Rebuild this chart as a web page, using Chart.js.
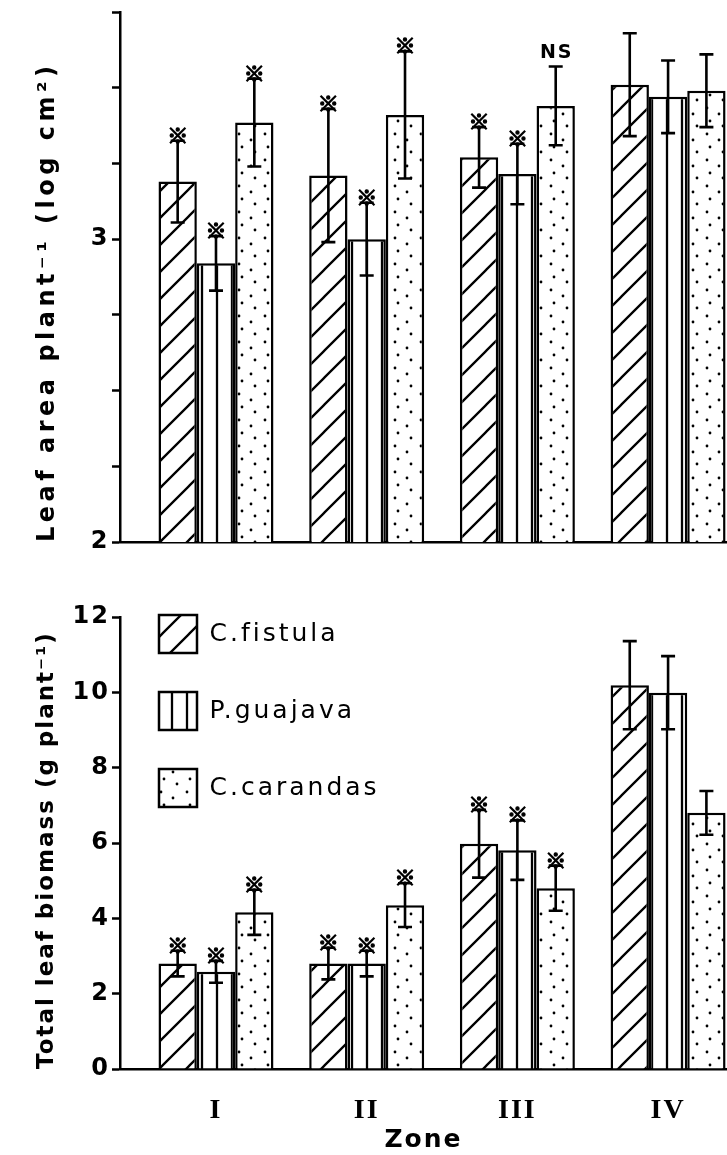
<!DOCTYPE html>
<html><head><meta charset="utf-8">
<script src="https://cdn.jsdelivr.net/npm/chart.js@4"></script>
<style>
html,body{margin:0;padding:0;background:#fff;}
#wrap{position:relative;width:727px;height:1155px;background:#fff;}
#c1{position:absolute;left:0;top:0;}
#c2{position:absolute;left:0;top:580px;}
</style></head><body>
<div id="wrap"><canvas id="c1" width="727" height="560"></canvas><canvas id="c2" width="727" height="575"></canvas></div>
<script>
// ---------- data ----------
const zones = ['I', 'II', 'III', 'IV'];
const speciesNames = ['C.fistula', 'P.guajava', 'C.carandas'];

// Leaf area plant-1 (log cm2)
const areaFistula  = [3.19, 3.21, 3.27, 3.51];
const areaGuajava  = [2.92, 3.00, 3.215, 3.47];
const areaCarandas = [3.385, 3.41, 3.44, 3.49];
const areaFistulaErr  = [0.135, 0.22, 0.10, 0.17];
const areaGuajavaErr  = [0.09, 0.12, 0.10, 0.12];
const areaCarandasErr = [0.145, 0.21, 0.13, 0.12];
const areaFistulaMark  = ['※', '※', '※', ''];
const areaGuajavaMark  = ['※', '※', '※', ''];
const areaCarandasMark = ['※', '※', 'NS', ''];

// Total leaf biomass (g plant-1)
const massFistula  = [2.80, 2.80, 5.98, 10.19];
const massGuajava  = [2.58, 2.80, 5.81, 9.99];
const massCarandas = [4.16, 4.35, 4.80, 6.80];
const massFistulaErr  = [0.34, 0.42, 0.90, 1.17];
const massGuajavaErr  = [0.29, 0.34, 0.79, 0.97];
const massCarandasErr = [0.60, 0.58, 0.60, 0.58];
const massFistulaMark  = ['※', '※', '※', ''];
const massGuajavaMark  = ['※', '※', '※', ''];
const massCarandasMark = ['※', '※', '※', ''];

// ---------- fill patterns ----------
function tile(w, h, draw) {
  const c = document.createElement('canvas'); c.width = w; c.height = h;
  const g = c.getContext('2d'); g.fillStyle = '#fff'; g.fillRect(0, 0, w, h);
  g.strokeStyle = '#000'; g.fillStyle = '#000'; draw(g, w, h);
  return g.createPattern(c, 'repeat');
}
const hatch = tile(27, 27, (g, s) => {
  g.lineWidth = 2.3; g.beginPath();
  g.moveTo(-2, s + 2); g.lineTo(s + 2, -2);
  g.moveTo(-3, 3); g.lineTo(3, -3);
  g.moveTo(s - 3, s + 3); g.lineTo(s + 3, s - 3);
  g.stroke();
});
const vlines = tile(15, 10, (g, w, h) => {
  g.lineWidth = 2.3; g.beginPath(); g.moveTo(7, 0); g.lineTo(7, h); g.stroke();
});
const dots = tile(26, 26, (g) => {
  [[5, 4], [17, 10], [8, 17], [21, 22]].forEach(([x, y]) => {
    g.beginPath(); g.arc(x, y, 1.4, 0, Math.PI * 2); g.fill();
  });
});
const fills = [hatch, vlines, dots];

// ---------- plugins ----------
function makeErrPlugin(errs, marks) {
  return {
    id: 'errbars',
    afterDatasetsDraw(chart) {
      const ctx = chart.ctx, y = chart.scales.y;
      ctx.save();
      chart.data.datasets.forEach((ds, di) => {
        const meta = chart.getDatasetMeta(di);
        meta.data.forEach((bar, i) => {
          const v = ds.data[i].y, e = errs[di][i];
          const hi = y.getPixelForValue(v + e), lo = y.getPixelForValue(v - e);
          ctx.strokeStyle = '#000'; ctx.lineWidth = 2.6;
          ctx.beginPath();
          ctx.moveTo(bar.x, lo); ctx.lineTo(bar.x, hi);
          ctx.moveTo(bar.x - 7, hi); ctx.lineTo(bar.x + 7, hi);
          ctx.moveTo(bar.x - 7, lo); ctx.lineTo(bar.x + 7, lo);
          ctx.stroke();
          const m = marks[di][i];
          if (m) {
            ctx.fillStyle = '#000';
            ctx.textAlign = 'center'; ctx.textBaseline = 'alphabetic';
            if (m === 'NS') {
              ctx.letterSpacing = '2px';
              ctx.font = 'bold 19px "DejaVu Sans"';
              ctx.fillText(m, bar.x + 1, hi - 9);
            } else {
              ctx.letterSpacing = '0px';
              ctx.font = 'bold 21px "Noto Sans CJK SC"';
              ctx.lineWidth = 1.3;
              ctx.fillText(m, bar.x, hi + 2);
              ctx.strokeText(m, bar.x, hi + 2);
            }
          }
        });
      });
      ctx.restore();
    }
  };
}
function spacing(px) {
  return {
    id: 'spacing',
    beforeDraw(chart) { chart.ctx.letterSpacing = px; },
    afterDraw(chart) { chart.ctx.letterSpacing = '0px'; }
  };
}
const legendPlace = {
  id: 'legendPlace',
  afterLayout(chart) {
    const l = chart.legend;
    if (!l) return;
    const firstBoxTop = 35;
    l.top = firstBoxTop - l.options.labels.padding;
    l.bottom = l.top + l.height;
    if (!l._wrapped) {
      const orig = l.draw;
      l.draw = function (a) {
        const c = this.ctx; const prev = c.letterSpacing;
        c.letterSpacing = '3px'; orig.call(this, a); c.letterSpacing = prev;
      };
      l._wrapped = true;
    }
  }
};

// ---------- shared ----------
const tickFont = { family: 'DejaVu Sans', size: 24, weight: 'bold', lineHeight: 1 };
function xScale(extra) {
  return Object.assign({
    type: 'linear', min: -0.637, max: 3.391, offset: false,
    grid: { display: false },
    border: { display: true, color: '#000', width: 2.5 },
    afterBuildTicks(s) { s.ticks = s.ticks.filter(t => Number.isInteger(t.value) && t.value >= 0 && t.value < zones.length); }
  }, extra);
}
function datasets(series) {
  return series.map((vals, k) => ({
    label: speciesNames[k],
    data: vals.map((v, i) => ({ x: i, y: v })),
    backgroundColor: fills[k], borderColor: '#000', borderWidth: 2.5, borderSkipped: 'start'
  }));
}

// ---------- top chart ----------
new Chart(document.getElementById('c1'), {
  type: 'bar',
  data: { datasets: datasets([areaFistula, areaGuajava, areaCarandas]) },
  options: {
    responsive: false, animation: false,
    categoryPercentage: 0.763, barPercentage: 1,
    layout: { padding: { top: 10.5, left: 0, right: 0, bottom: 0 } },
    plugins: { legend: { display: false }, tooltip: { enabled: false } },
    scales: {
      x: xScale({ ticks: { display: false, stepSize: 1, includeBounds: false }, afterFit(s) { s.height = 18; } }),
      y: {
        min: 2, max: 3.75,
        ticks: { stepSize: 0.25, color: '#000', font: tickFont, padding: 0,
          callback: v => (Number.isInteger(v) ? String(v) : '') },
        grid: { drawOnChartArea: false, drawTicks: true, tickLength: 8, tickWidth: 2.5, color: '#000' },
        border: { color: '#000', width: 2.5 },
        title: { display: true, align: 'start', text: 'Leaf area plant⁻¹ (log cm²)', color: '#000',
          font: { family: 'DejaVu Sans', size: 24, weight: 'bold' }, padding: { top: 33, bottom: 0 } },
        afterFit(s) { s.width = 120; }
      }
    }
  },
  plugins: [spacing('4.5px'), makeErrPlugin([areaFistulaErr, areaGuajavaErr, areaCarandasErr], [areaFistulaMark, areaGuajavaMark, areaCarandasMark])]
});

// ---------- bottom chart ----------
new Chart(document.getElementById('c2'), {
  type: 'bar',
  data: { datasets: datasets([massFistula, massGuajava, massCarandas]) },
  options: {
    responsive: false, animation: false,
    categoryPercentage: 0.763, barPercentage: 1,
    layout: { padding: { top: 37, left: 0, right: 0, bottom: 0 } },
    plugins: {
      tooltip: { enabled: false },
      legend: {
        position: 'chartArea', align: 'start',
        labels: { boxWidth: 38, boxHeight: 38, padding: 39, color: '#000',
          font: { family: 'DejaVu Sans', size: 25 } }
      }
    },
    scales: {
      x: xScale({
        ticks: { stepSize: 1, includeBounds: false, autoSkip: false, maxRotation: 0, padding: 25, color: '#000',
          font: { family: 'Liberation Serif', size: 28, weight: 'bold' },
          callback: v => zones[v] },
        grid: { display: false, drawTicks: false },
        title: { display: true, text: 'Zone', color: '#000', font: { family: 'DejaVu Sans', size: 25, weight: 'bold' }, padding: 0 },
        afterFit(s) { s.height = 86; }
      }),
      y: {
        min: 0, max: 12,
        ticks: { stepSize: 2, color: '#000', font: tickFont, padding: 2 },
        grid: { drawOnChartArea: false, drawTicks: true, tickLength: 8, tickWidth: 2.5, color: '#000' },
        border: { color: '#000', width: 2.5 },
        title: { display: true, align: 'start', text: 'Total leaf biomass (g plant⁻¹)', color: '#000',
          font: { family: 'DejaVu Sans', size: 23, weight: 'bold' }, padding: { top: 33, bottom: 0 } },
        afterFit(s) { s.width = 120; }
      }
    }
  },
  plugins: [spacing('2px'), legendPlace, makeErrPlugin([massFistulaErr, massGuajavaErr, massCarandasErr], [massFistulaMark, massGuajavaMark, massCarandasMark])]
});
</script>
</body></html>
